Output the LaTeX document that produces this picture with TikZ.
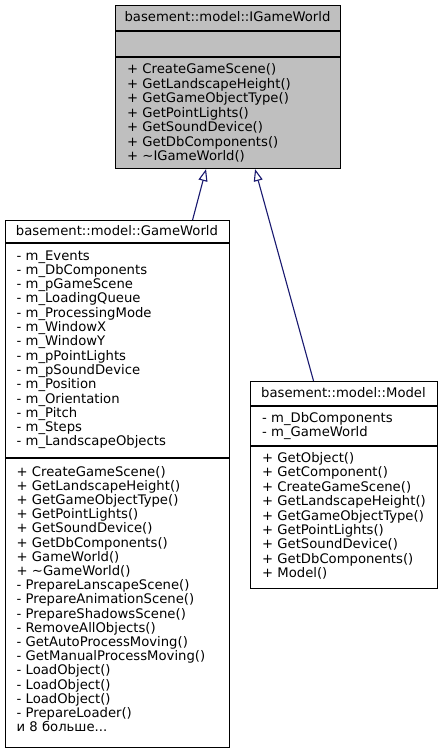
\documentclass[tikz,border=0pt]{standalone}
\usepackage{fontspec}
\setmainfont{DejaVu Sans}
\usetikzlibrary{arrows.meta}
\definecolor{edgeblue}{HTML}{191970}
\definecolor{basegrey}{HTML}{BFBFBF}
\newcommand{\morecount}{и 8 больше...}
\begin{document}
\begin{tikzpicture}[x=1bp,y=-1bp,
  classbox/.style={draw=black, line width=1.1bp, inner sep=0pt, anchor=north west},
  rule/.style={draw=black, line width=1.1bp},
  member/.style={anchor=base west, inner sep=0pt, font=\fontsize{13.2bp}{14.4bp}\selectfont},
  classtitle/.style={anchor=base, inner sep=0pt, font=\fontsize{13.2bp}{14.4bp}\selectfont},
  inherit/.style={draw=edgeblue, line width=1.1bp,
    -{Triangle[length=12bp, width=9bp, fill=white]}}]
  % canvas
  \fill[white] (0,0) rectangle (443,756);
  \useasboundingbox (0,0) rectangle (443,756);

  % ---- basement::model::IGameWorld (interface, shaded) ----
  \node[classbox, fill=basegrey, minimum width=225bp, minimum height=163bp] (igw) at (115,5) {};
  \draw[rule] (115,31) -- (340,31);
  \draw[rule] (115,57) -- (340,57);
  \node[classtitle] (igw-t) at (227.5,21.5) {basement::model::IGameWorld};
  \foreach \t [count=\i from 0] in {+ CreateGameScene(), + GetLandscapeHeight(),
      + GetGameObjectType(), + GetPointLights(), + GetSoundDevice(),
      + GetDbComponents(), + \textasciitilde{}IGameWorld()}
    \node[member] (igw-m\i) at (127,{73.5+14.5*\i}) {\t};

  % ---- basement::model::GameWorld ----
  \node[classbox, fill=white, minimum width=224bp, minimum height=527bp] (gw) at (5,220) {};
  \draw[rule] (5,243) -- (229,243);
  \draw[rule] (5,458) -- (229,458);
  \node[classtitle] (gw-t) at (117,235) {basement::model::GameWorld};
  \foreach \t [count=\i from 0] in {m\_Events, m\_DbComponents, m\_pGameScene,
      m\_LoadingQueue, m\_ProcessingMode, m\_WindowX, m\_WindowY, m\_pPointLights,
      m\_pSoundDevice, m\_Position, m\_Orientation, m\_Pitch, m\_Steps,
      m\_LandscapeObjects}
    \node[member] (gw-a\i) at (16.5,{260+14.3*\i}) {- \t};
  \foreach \t [count=\i from 0] in {+ CreateGameScene(), + GetLandscapeHeight(),
      + GetGameObjectType(), + GetPointLights(), + GetSoundDevice(),
      + GetDbComponents(), + GameWorld(), + \textasciitilde{}GameWorld(),
      - PrepareLanscapeScene(), - PrepareAnimationScene(), - PrepareShadowsScene(),
      - RemoveAllObjects(), - GetAutoProcessMoving(), - GetManualProcessMoving(),
      - LoadObject(), - LoadObject(), - LoadObject(), - PrepareLoader(),
      \morecount}
    \node[member] (gw-m\i) at (16.5,{476+14.2*\i}) {\t};

  % ---- basement::model::Model ----
  \node[classbox, fill=white, minimum width=187bp, minimum height=207bp] (mdl) at (250,381) {};
  \draw[rule] (250,406) -- (437,406);
  \draw[rule] (250,446) -- (437,446);
  \node[classtitle] (mdl-t) at (343.5,397) {basement::model::Model};
  \foreach \t [count=\i from 0] in {m\_DbComponents, m\_GameWorld}
    \node[member] (mdl-a\i) at (262,{422+14.4*\i}) {- \t};
  \foreach \t [count=\i from 0] in {+ GetObject(), + GetComponent(), + CreateGameScene(),
      + GetLandscapeHeight(), + GetGameObjectType(), + GetPointLights(),
      + GetSoundDevice(), + GetDbComponents(), + Model()}
    \node[member] (mdl-m\i) at (262,{462.5+14.4*\i}) {\t};

  % ---- generalisation arrows ----
  \draw[inherit] ([xshift=75bp]gw.north) -- ([xshift=-22bp]igw.south);
  \draw[inherit] ([xshift=-30.5bp]mdl.north) -- ([xshift=27bp]igw.south);
\end{tikzpicture}
\end{document}
